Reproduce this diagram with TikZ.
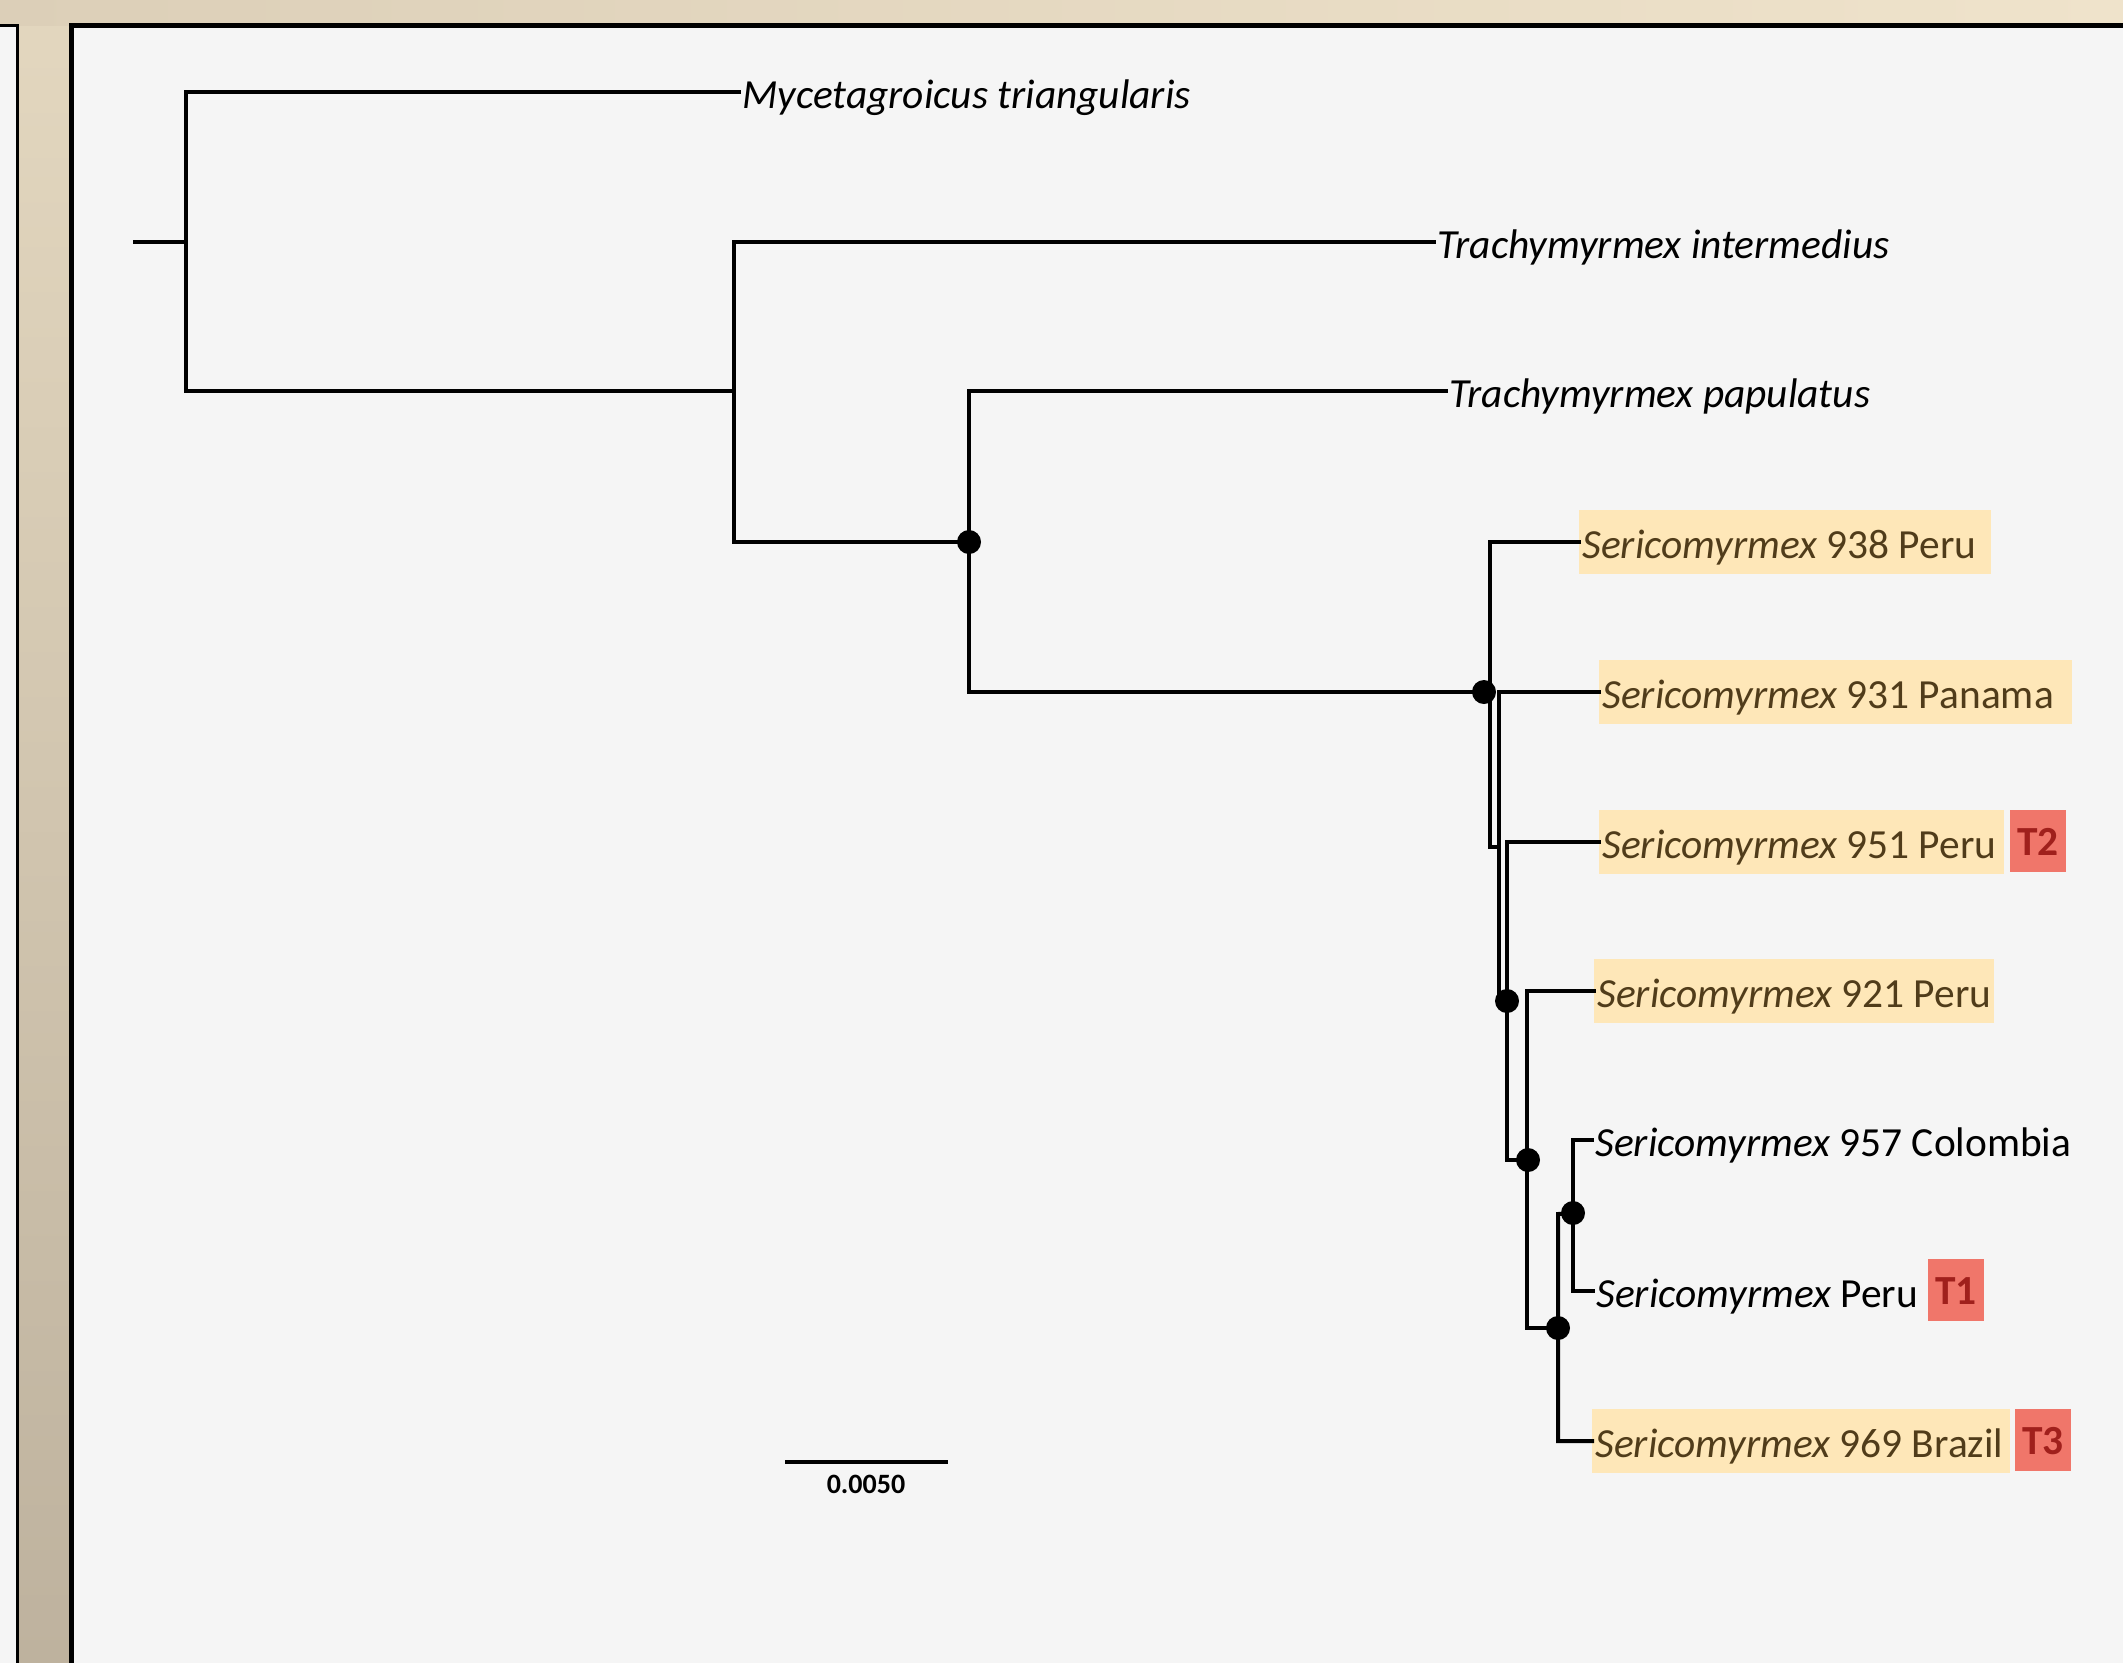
\documentclass[tikz,border=0pt]{standalone}
\usepackage{fontspec}
\setmainfont{Carlito}
\usetikzlibrary{positioning}
\definecolor{panelbg}{RGB}{245,245,245}
\definecolor{beigeA}{RGB}{227,215,191}
\definecolor{beigeB}{RGB}{190,178,158}
\definecolor{beigeC}{RGB}{220,207,184}
\definecolor{beigeD}{RGB}{239,227,203}
\definecolor{boxfill}{RGB}{254,231,184}
\definecolor{boxtext}{RGB}{80,60,26}
\definecolor{badgefill}{RGB}{240,118,106}
\definecolor{badgetext}{RGB}{160,32,28}
\begin{document}
\begin{tikzpicture}[x=0.5pt,y=-0.5pt,
  branch/.style={line width=2pt, line cap=rect},
  dot/.style={circle, fill=black, inner sep=0pt, minimum size=12pt},
  leaf/.style={anchor=west, inner xsep=1.5pt, inner ysep=0pt, text height=16pt, text depth=0pt,
     minimum height=32pt, font=\fontsize{20.7}{25}\selectfont},
  boxleaf/.style={leaf, fill=boxfill, text=boxtext},
  badge/.style={fill=badgefill, text=badgetext, inner sep=0pt, minimum width=28pt, minimum height=31pt,
     text height=14pt, text depth=0pt, font=\fontsize{20.7}{25}\selectfont\bfseries}]
\useasboundingbox (0,0) rectangle (2123,1662);
\clip (0,0) rectangle (2123,1662);
% background frame
\shade[top color=beigeA, bottom color=beigeB] (0,0) rectangle (2123,1662);
\shade[left color=beigeC, right color=beigeD] (0,0) rectangle (2123,25);
\draw[fill=panelbg, line width=1.5pt] (-40,25) rectangle (17,1720);
\draw[fill=panelbg, line width=2.5pt] (71,25) rectangle (2200,1720);

% leaf labels
\node[leaf] (myc) at (739,92) {\itshape Mycetagroicus triangularis};
\node[leaf] (tint) at (1434,242) {\itshape Trachymyrmex intermedius};
\node[leaf] (tpap) at (1446,391) {\itshape Trachymyrmex papulatus};
\node[boxleaf] (l938) at (1579,542) {\textit{Sericomyrmex} 938 Peru\kern6pt};
\node[boxleaf] (l931) at (1599,692) {\textit{Sericomyrmex} 931 Panama\kern7.5pt};
\node[boxleaf] (l951) at (1599,842) {\textit{Sericomyrmex} 951 Peru\kern2.5pt};
\node[boxleaf] (l921) at (1594,991) {\textit{Sericomyrmex} 921 Peru};
\node[leaf] (l957) at (1592,1140) {\textit{Sericomyrmex} 957 Colombia};
\node[leaf] (lperu) at (1593,1291) {\textit{Sericomyrmex} Peru};
\node[boxleaf] (l969) at (1592,1441) {\textit{Sericomyrmex} 969 Brazil\kern2pt};
\node[badge] (t2) at (2038,841) {T2};
\node[badge] (t1) at (1956,1290) {T1};
\node[badge] (t3) at (2043,1440) {T3};

% internal nodes
\coordinate (r0) at (135,242);
\coordinate (n1) at (186,242);
\coordinate (n2) at (734,391);
\coordinate (n3) at (969,542);
\coordinate (n4) at (1484,692);
\coordinate (s1) at (1490,847);
\coordinate (s1b) at (1499,847);
\coordinate (s2) at (1499,1001);
\coordinate (n5) at (1507,1001);
\coordinate (s3) at (1507,1160);
\coordinate (n6) at (1528,1160);
\coordinate (s4) at (1527,1328);
\coordinate (n7) at (1558,1328);
\coordinate (s5) at (1558,1214);
\coordinate (n8) at (1573,1213);

% branches
\draw[branch] (r0) -- (n1);
\draw[branch] (n1) |- (myc.west);
\draw[branch] (n1) |- (n2);
\draw[branch] (n2) |- (tint.west);
\draw[branch] (n2) |- (n3);
\draw[branch] (n3) |- (tpap.west);
\draw[branch] (n3) |- (n4);
\draw[branch] (l938.west) -| (s1) -- (s1b);
\draw[branch] (l931.west) -| (s2);
\draw[branch] (l951.west) -| (s3) -- (n6);
\draw[branch] (l921.west) -| (s4) -- (n7);
\draw[branch] (l969.west) -| (s5) -- (n8);
\draw[branch] (l957.west) -| (n8) |- (lperu.west);

% support dots
\node[dot] (d3) at (n3) {};
\node[dot] (d4) at (n4) {};
\node[dot] (d5) at (n5) {};
\node[dot] (d6) at (n6) {};
\node[dot] (d7) at (n7) {};
\node[dot] (d8) at (n8) {};

% scale bar
\coordinate (sb1) at (785,1462);
\coordinate (sb2) at (948,1462);
\draw[line width=2pt] (sb1) -- (sb2);
\node[font=\fontsize{14}{16}\selectfont\bfseries, inner sep=0pt] (sbl) at (866,1484) {0.0050};
\end{tikzpicture}
\end{document}
